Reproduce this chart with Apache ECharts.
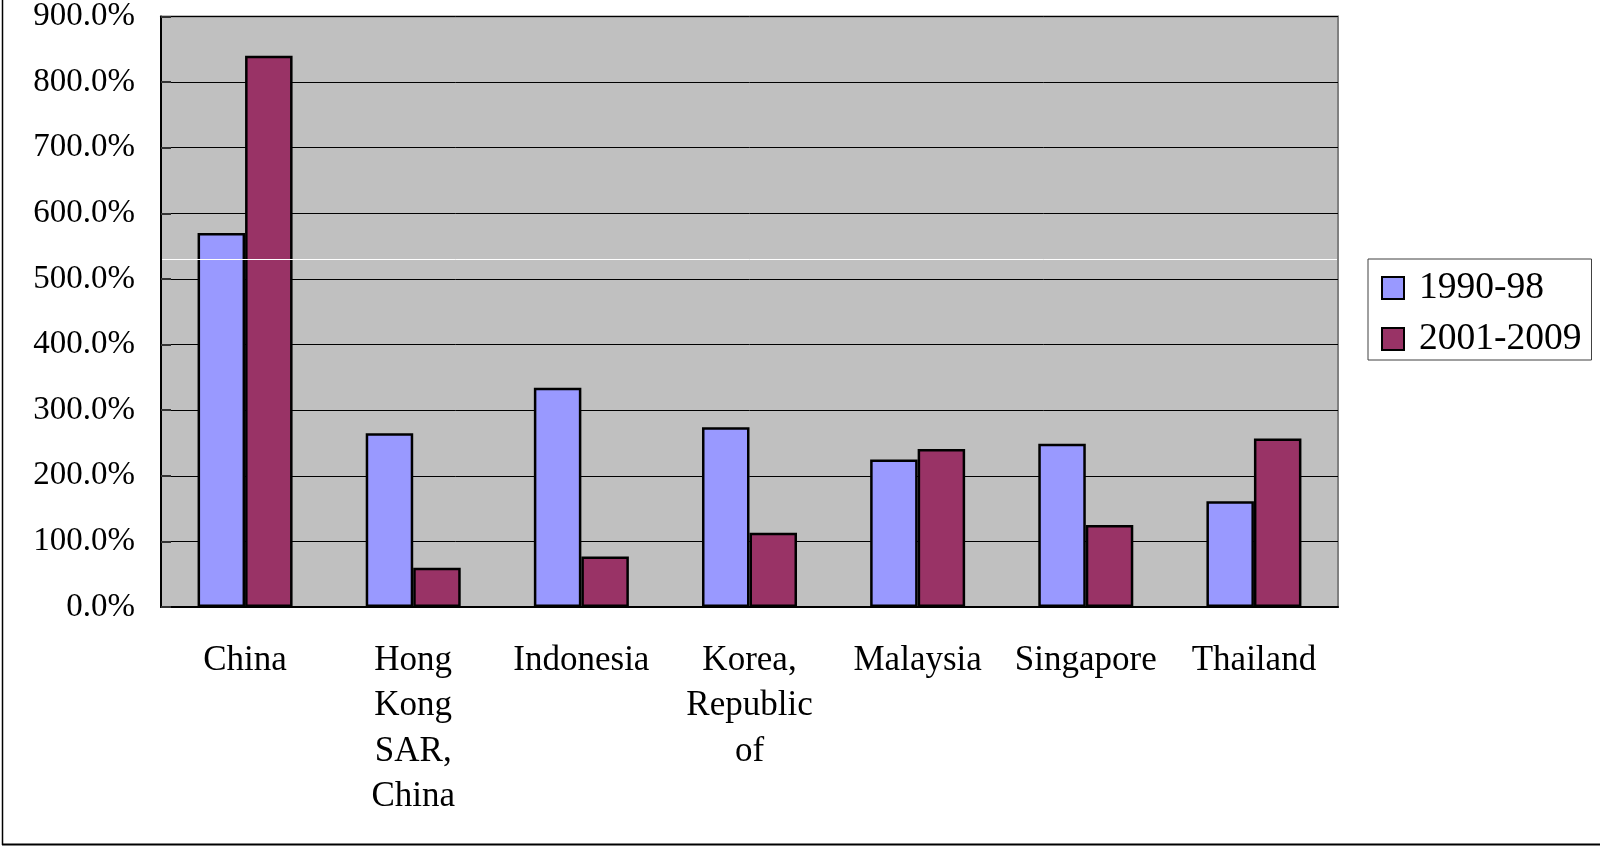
<!DOCTYPE html>
<html>
<head>
<meta charset="utf-8">
<script src="https://cdn.jsdelivr.net/npm/echarts@6/dist/echarts.min.js"></script>
<style>
  html, body { margin: 0; padding: 0; background: #ffffff; }
  #chart { width: 1600px; height: 846px; }
</style>
</head>
<body>
<div id="chart"></div>
<script>
// Growth by economy, two periods (percent)
const categories = ['China', 'Hong Kong SAR, China', 'Indonesia', 'Korea, Republic of', 'Malaysia', 'Singapore', 'Thailand'];
const period1Name = '1990-98';
const period2Name = '2001-2009';
const period1 = [570, 265, 334, 274, 225, 249, 161];
const period2 = [840, 60, 77, 113, 241, 125, 257];
const yMin = 0, yMax = 900, yStep = 100;

const chart = echarts.init(document.getElementById('chart'));

const barStyle = (color) => ({ color: color, borderColor: '#000000', borderWidth: 2.5 });

chart.setOption({
  animation: false,
  backgroundColor: '#ffffff',
  grid: {
    left: 161, top: 13, right: 262, bottom: 239,
    show: true,
    backgroundColor: '#C0C0C0',
    borderColor: '#808080',
    borderWidth: 2
  },
  legend: {
    orient: 'vertical',
    left: 1368, top: 259,
    padding: [9, 10, 1, 13],
    itemGap: 11,
    itemWidth: 22, itemHeight: 22,
    icon: 'rect',
    borderColor: '#404040', borderWidth: 1,
    backgroundColor: '#ffffff',
    textStyle: { fontFamily: 'Liberation Serif', fontSize: 37.5, color: '#000', lineHeight: 40, padding: [0, 0, 0, 10] },
    data: [period1Name, period2Name]
  },
  xAxis: {
    type: 'category',
    data: categories,
    axisLine: { lineStyle: { color: '#000', width: 2 } },
    axisTick: { inside: true, length: 10, lineStyle: { color: '#000', width: 1 } },
    axisLabel: {
      interval: 0,
      margin: 31,
      fontFamily: 'Liberation Serif', fontSize: 35, color: '#000', lineHeight: 45.5,
      align: 'center',
      formatter: (v) => v.split(' ').join('\n')
    }
  },
  yAxis: {
    type: 'value',
    min: yMin, max: yMax, interval: yStep,
    axisLine: { show: true, lineStyle: { color: '#000', width: 2 } },
    axisTick: { show: true, inside: true, length: 10, lineStyle: { color: '#333', width: 2 } },
    splitLine: { lineStyle: { color: '#000', width: 1 } },
    axisLabel: {
      margin: 26,
      fontFamily: 'Liberation Serif', fontSize: 33, color: '#000',
      formatter: (v) => v.toFixed(1) + '%'
    }
  },
  series: [
    { name: period1Name, type: 'bar', data: period1, barGap: '0%', barCategoryGap: '43.5%', itemStyle: barStyle('#9999FF') },
    { name: period2Name, type: 'bar', data: period2, barGap: '0%', barCategoryGap: '43.5%', itemStyle: barStyle('#993366') }
  ],
  graphic: [
    // faint white rule across the plot area
    { type: 'line', z: 5, shape: { x1: 162, y1: 259.5, x2: 1337, y2: 259.5 }, style: { stroke: '#ffffff', lineWidth: 1 } },
    // outer frame: left and bottom edges
    { type: 'line', z: 5, shape: { x1: 2.5, y1: 0, x2: 2.5, y2: 845 }, style: { stroke: '#000', lineWidth: 1.5 } },
    { type: 'line', z: 5, shape: { x1: 2, y1: 844.5, x2: 1600, y2: 844.5 }, style: { stroke: '#000', lineWidth: 2 } }
  ]
});
</script>
</body>
</html>
